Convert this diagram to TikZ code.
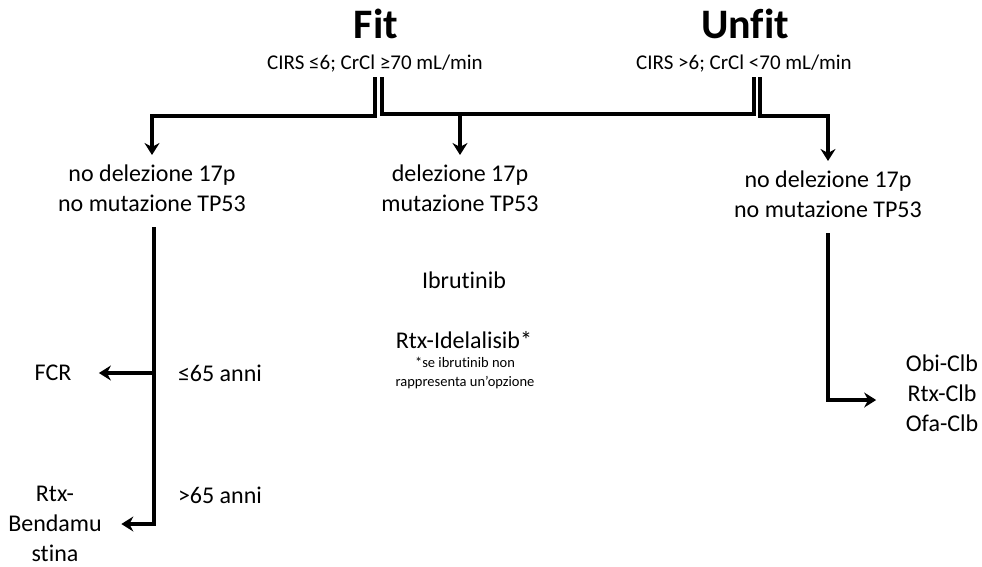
\documentclass[tikz,border=0pt]{standalone}
\usepackage{fontspec}
\setmainfont{Carlito}[Ligatures=NoCommon]
\usetikzlibrary{arrows.meta, positioning, calc}

\begin{document}
\begin{tikzpicture}[x=1pt, y=-1pt, line width=3.2pt,
    every node/.style={align=center, inner sep=0pt, font=\fontsize{24}{30}\selectfont},
    head/.style={font=\fontsize{42}{46}\selectfont\bfseries},
    crit/.style={font=\fontsize{21}{25}\selectfont},
    note/.style={font=\fontsize{14.5}{19}\selectfont},
    arr/.style={-{Stealth[length=12pt, width=15pt, inset=4pt]}}]
    \useasboundingbox (0,0) rectangle (982,566);
    % the two groups of patients
    \node[head] (fit) at (376,24) {Fit};
    \node[crit] (fitcrit) at (375,64) {CIRS ≤6; CrCl ≥70 mL/min};
    \node[head] (unfit) at (745,24) {Unfit};
    \node[crit] (unfitcrit) at (744,64) {CIRS >6; CrCl <70 mL/min};
    % cytogenetics
    \node (nodelL) at (152,188) {no delezione 17p\\no mutazione TP53};
    \node (del) at (460,188) {delezione 17p\\mutazione TP53};
    \node (nodelR) at (828,194) {no delezione 17p\\no mutazione TP53};
    % therapies
    \node (ibr) at (464,280) {Ibrutinib};
    \node (idel) at (464,340) {Rtx-Idelalisib*};
    \node[note] (idelnote) at (465,373) {*se ibrutinib non\\rappresenta un’opzione};
    \node (fcr) at (53,373) {FCR};
    \node (young) at (220,373) {≤65 anni};
    \node (old) at (220,495) {>65 anni};
    \node (benda) at (55,524) {Rtx-\\Bendamu\\stina};
    \node (clb) at (942,393) {Obi-Clb\\Rtx-Clb\\Ofa-Clb};
    % double stems below the criteria
    \coordinate (fitL) at (375,77);
    \coordinate (fitR) at (382,77);
    \coordinate (unfitL) at (754,77);
    \coordinate (unfitR) at (760,77);
    \coordinate (mid) at (460,114);
    \draw[arr, shorten >=8pt] (fitL) -- ++(0,39) -| (nodelL.north);
    \draw (fitR) |- ($(unfitL)+(0,37)$) -- (unfitL);
    \draw[arr, shorten >=8pt] (mid) -- (del.north);
    \draw[arr, shorten >=8pt] (unfitR) -- ++(0,39) -| (nodelR.north);
    % age split and unfit branch
    \draw[arr, shorten <=14pt, shorten >=18pt] (nodelL.south -| 154,0) |- (benda.east);
    \draw[arr, shorten >=26pt] (nodelL.south |- fcr) ++(2,0) -- (fcr.east);
    \draw[arr, shorten <=14pt, shorten >=28pt] (nodelR.south) |- ([yshift=-7pt]clb.west);
\end{tikzpicture}
\end{document}
